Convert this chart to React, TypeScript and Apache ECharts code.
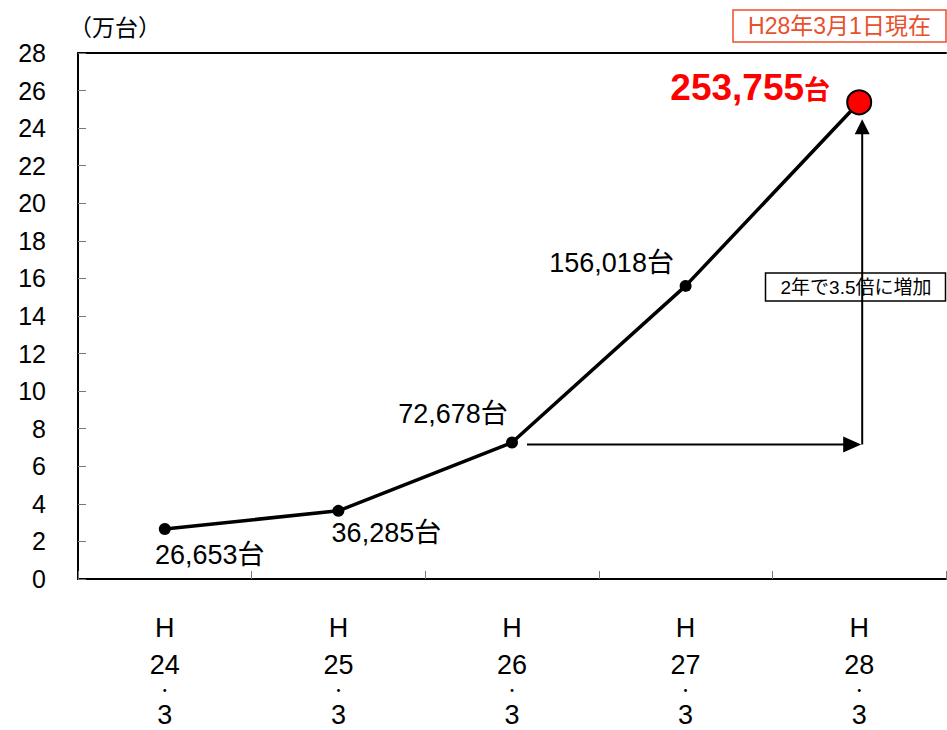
import React, { useEffect, useRef } from "react";
import * as echarts from "echarts";

// ---- data ----
const categories = ["H24・3", "H25・3", "H26・3", "H27・3", "H28・3"];
const counts = [26653, 36285, 72678, 156018, 253755]; // 台
const unit = 10000; // 万台
const yMin = 0;
const yMax = 28;
const yInterval = 2;
const yAxisName = "（万台）";
const asOfText = "H28年3月1日現在";
const growthText = "2年で3.5倍に増加";

const FONT = '"Liberation Sans", Arial, "Noto Sans CJK JP", sans-serif';
const ACCENT = "#e9502c";

// label offsets (relative to marker centre)
const labelOffsets: [number, number][] = [
  [45, 26],
  [48, 22],
  [-59, -28],
  [-74, -23],
  [-109, -15],
];

export default function App() {
  const ref = useRef<HTMLDivElement>(null);

  useEffect(() => {
    if (!ref.current) return;
    const chart = echarts.init(ref.current, undefined, { renderer: "svg" });
    const last = counts.length - 1;

    const data = counts.map((c, i) => {
      const item: any = {
        value: c / unit,
        label: { offset: labelOffsets[i] },
      };
      if (i === last) {
        item.symbolSize = 24;
        item.itemStyle = { color: "#ff0000", borderColor: "#000", borderWidth: 2 };
        item.label = {
          offset: labelOffsets[i],
          formatter: () => `{a|${c.toLocaleString("en-US")}}{b|台}`,
          rich: {
            a: { fontSize: 37, fontWeight: "bold", color: "#ff0000", fontFamily: FONT },
            b: { fontSize: 26, fontWeight: "bold", color: "#ff0000", fontFamily: FONT, padding: [6, 0, 0, 0] },
          },
        };
      }
      return item;
    });

    chart.setOption({
      animation: false,
      textStyle: { fontFamily: FONT },
      grid: { left: 78, right: 1, top: 53, bottom: 151, containLabel: false },
      xAxis: [
        {
          type: "category",
          data: categories,
          boundaryGap: true,
          axisLine: { lineStyle: { color: "#000", width: 2 } },
          axisTick: { show: true, inside: true, length: 8, interval: 0, lineStyle: { color: "#777", width: 1 } },
          axisLabel: {
            interval: 0,
            margin: 24,
            color: "#000",
            formatter: (v: string) => {
              const m = v.match(/^H(\d+)・(\d+)$/);
              if (!m) return v;
              return `{h|H}\n{n|${m[1]}}\n{d|・}\n{n|${m[2]}}`;
            },
            rich: {
              h: { fontSize: 27, lineHeight: 49, color: "#000", fontFamily: FONT },
              n: { fontSize: 27, lineHeight: 25, color: "#000", fontFamily: FONT },
              d: { fontSize: 14, lineHeight: 25, color: "#000", fontFamily: FONT },
            },
          },
        },
        {
          type: "category",
          data: categories,
          position: "top",
          axisLine: { show: true, lineStyle: { color: "#000", width: 2 } },
          axisTick: { show: false },
          axisLabel: { show: false },
        },
      ],
      yAxis: {
        type: "value",
        min: yMin,
        max: yMax,
        interval: yInterval,
        axisLine: { show: true, lineStyle: { color: "#000", width: 2 } },
        axisTick: { show: true, inside: true, length: 8, lineStyle: { color: "#777", width: 1 } },
        splitLine: { show: false },
        axisLabel: { fontSize: 25, color: "#000", margin: 32, fontFamily: FONT },
      },
      series: [
        {
          type: "line",
          data,
          symbol: "circle",
          symbolSize: 12,
          showSymbol: true,
          lineStyle: { color: "#000", width: 3.5 },
          itemStyle: { color: "#000" },
          z: 5,
          label: {
            show: true,
            position: "inside",
            fontSize: 27,
            color: "#000",
            fontFamily: FONT,
            formatter: (p: any) => `${counts[p.dataIndex].toLocaleString("en-US")}台`,
          },
        },
      ],
    });

    const p2 = chart.convertToPixel({ seriesIndex: 0 }, [2, counts[2] / unit]) as number[];
    const p4 = chart.convertToPixel({ seriesIndex: 0 }, [last, counts[last] / unit]) as number[];
    const hy = p2[1] + 2;
    const vx = p4[0] + 3;
    const tipY = p4[1] + 17;
    const arrowStyle = { stroke: "#000", lineWidth: 2 };

    chart.setOption({
      graphic: [
        {
          type: "text",
          left: 69,
          top: 16,
          style: { text: yAxisName, fill: "#000", font: `23px ${FONT}` },
        },
        // horizontal arrow
        { type: "line", shape: { x1: p2[0] + 15, y1: hy, x2: vx - 16, y2: hy }, style: arrowStyle, z: 10 },
        {
          type: "polygon",
          shape: { points: [[vx - 19, hy - 8], [vx - 1, hy], [vx - 19, hy + 8]] },
          style: { fill: "#000" },
          z: 10,
        },
        // vertical arrow
        { type: "line", shape: { x1: vx, y1: hy, x2: vx, y2: tipY + 14 }, style: arrowStyle, z: 10 },
        {
          type: "polygon",
          shape: { points: [[vx - 7.5, tipY + 15], [vx, tipY], [vx + 7.5, tipY + 15]] },
          style: { fill: "#000" },
          z: 10,
        },
        // growth box
        {
          type: "group",
          z: 11,
          children: [
            {
              type: "rect",
              shape: { x: 765.5, y: 273, width: 180, height: 28 },
              style: { fill: "#fff", stroke: "#000", lineWidth: 1.5 },
            },
            {
              type: "text",
              x: 856,
              y: 287,
              style: {
                text: growthText,
                font: `19px ${FONT}`,
                fill: "#000",
                align: "center",
                verticalAlign: "middle",
              },
            },
          ],
        },
        // as-of box
        {
          type: "group",
          z: 11,
          children: [
            {
              type: "rect",
              shape: { x: 733, y: 10, width: 213, height: 32 },
              style: { fill: "#fff", stroke: ACCENT, lineWidth: 1.5 },
            },
            {
              type: "text",
              x: 839.5,
              y: 26,
              style: {
                text: asOfText,
                font: `23px ${FONT}`,
                fill: ACCENT,
                align: "center",
                verticalAlign: "middle",
              },
            },
          ],
        },
      ],
    });

    return () => chart.dispose();
  }, []);

  return (
    <div
      ref={ref}
      style={{ position: "absolute", left: 0, top: 0, width: 947, height: 730, background: "#fff" }}
    />
  );
}
